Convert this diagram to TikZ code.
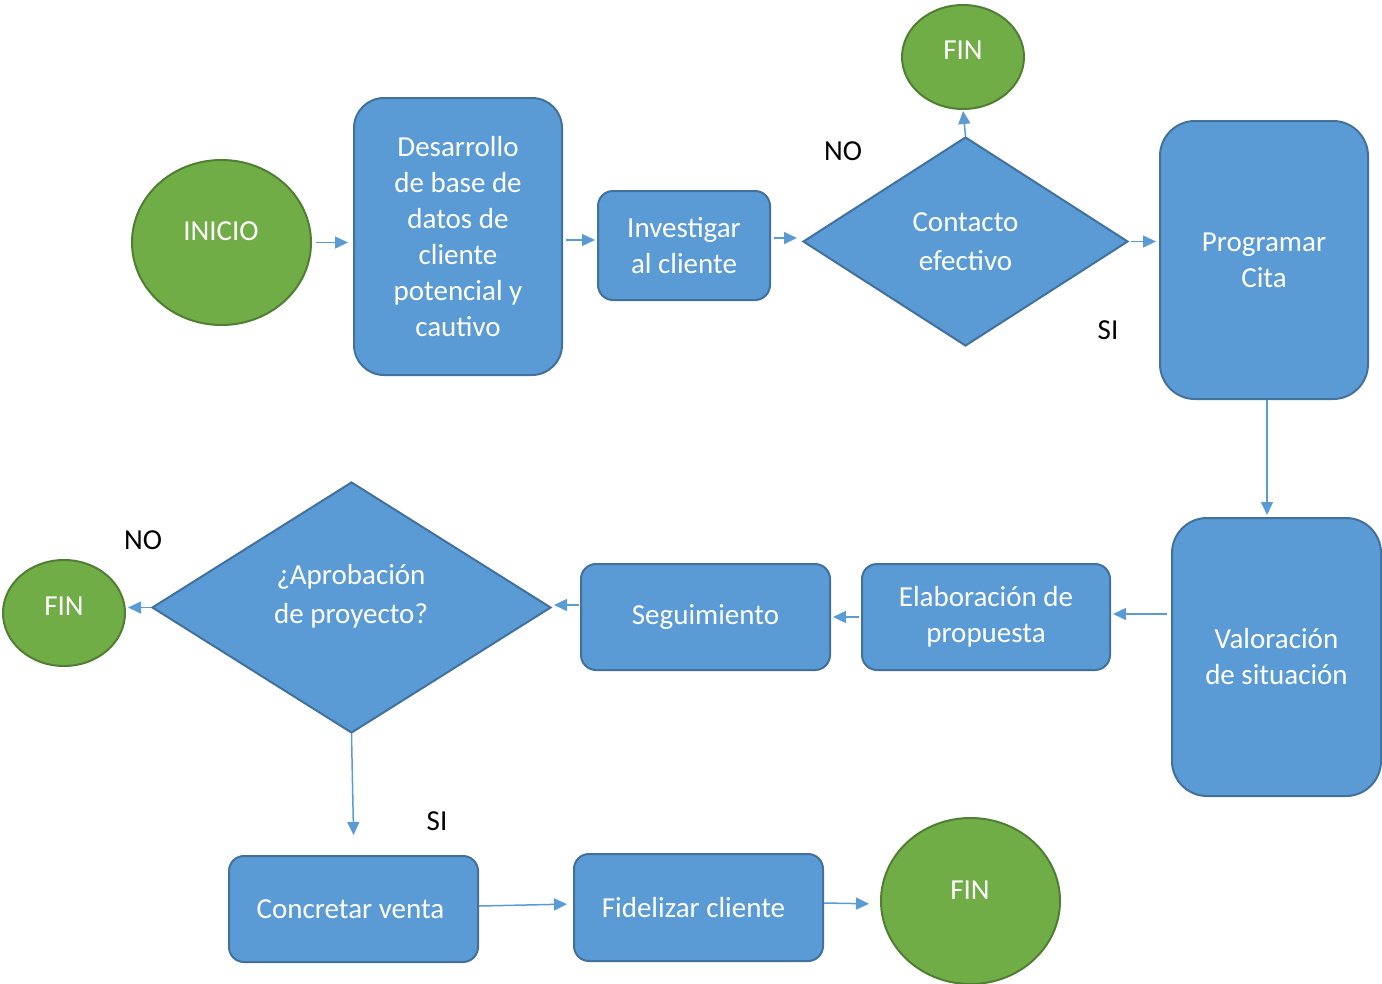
\documentclass[tikz,border=0pt]{standalone}
\usepackage{fontspec}
\setmainfont{Carlito}
\usetikzlibrary{shapes.geometric,arrows.meta}
\definecolor{bfill}{HTML}{5B9BD5}
\definecolor{bline}{HTML}{41719C}
\definecolor{gfill}{HTML}{70AD47}
\definecolor{gline}{HTML}{507E32}
\definecolor{arr}{HTML}{5B9BD5}
\tikzset{
  x=1pt,y=-1pt,
  txt/.style={font=\fontsize{29}{36}\selectfont, text=white, align=center},
  dtxt/.style={font=\fontsize{29}{39}\selectfont, text=white, align=center},
  box/.style={txt, draw=bline, fill=bfill, line width=2pt, inner sep=0pt},
  oval/.style={ellipse, draw=gline, fill=gfill, line width=2pt, inner sep=0pt, font=\fontsize{29}{36}\selectfont, text=white},
  dia/.style={diamond, dtxt, draw=bline, fill=bfill, line width=2pt, inner sep=0pt},
  conn/.style={draw=arr, line width=1.5pt, -{Triangle[length=13pt,width=12pt]}},
  lab/.style={font=\fontsize{29}{34}\selectfont, text=black}
}
\begin{document}
\begin{tikzpicture}
\useasboundingbox (0,0) rectangle (1382,983);
% nodes
\node[oval, minimum width=179pt, minimum height=165pt] (inicio) at (221.5,242.5) {};
\node[txt] (iniciot) at (221,231) {INICIO};
\node[box, rounded corners=30pt, minimum width=208pt, minimum height=277pt] (desa) at (458,236.5) {Desarrollo\\de base de\\datos de\\cliente\\potencial y\\cautivo};
\node[box, rounded corners=15pt, minimum width=172pt, minimum height=109pt] (inv) at (684,245.5) {Investigar\\al cliente};
\node[dia, minimum width=325pt, minimum height=209pt] (cont) at (965.5,241.5) {Contacto\\efectivo};
\node[oval, minimum width=122pt, minimum height=104pt] (fin1) at (963,57) {};
\node[txt] (fin1t) at (963,50) {FIN};
\node[box, rounded corners=35pt, minimum width=208pt, minimum height=278pt] (prog) at (1264,260) {Programar\\Cita};
\node[box, rounded corners=35pt, minimum width=209pt, minimum height=278pt] (val) at (1276.5,657) {Valoración\\de situación};
\node[box, rounded corners=15pt, minimum width=248pt, minimum height=106pt] (elab) at (986,617) {Elaboración de\\propuesta};
\node[box, rounded corners=15pt, minimum width=249pt, minimum height=106pt] (seg) at (705.5,617) {Seguimiento};
\node[dia, minimum width=399pt, minimum height=251pt] (apro) at (351.5,607.5) {};
\node[dtxt] (aprot) at (351,596.5) {¿Aprobación\\de proyecto?};
\node[oval, minimum width=122pt, minimum height=106pt] (fin2) at (64,613) {};
\node[txt] (fin2t) at (64,606) {FIN};
\node[box, rounded corners=15pt, minimum width=249pt, minimum height=106pt] (conc) at (353.5,909) {Concretar venta\hspace*{6pt}};
\node[box, rounded corners=15pt, minimum width=249pt, minimum height=107pt] (fide) at (698.5,907.5) {Fidelizar cliente\hspace*{10pt}};
\node[oval, minimum width=179pt, minimum height=166pt] (fin3) at (970.5,901) {};
\node[txt] (fin3t) at (970,890) {FIN};
% labels
\node[lab] (no1) at (843,151) {NO};
\node[lab] (si1) at (1108,330) {SI};
\node[lab] (no2) at (143,540) {NO};
\node[lab] (si2) at (437,821) {SI};
% connectors
\draw[conn, shorten <=4pt, shorten >=5pt] (inicio.east) -- (inicio.east -| desa.west);
\draw[conn, shorten <=3pt, shorten >=2pt] (desa.east |- 0,240) -- (inv.west |- 0,240);
\draw[conn, shorten <=3pt, shorten >=5pt] (inv.east |- 0,238) -- (cont.west |- 0,238);
\draw[conn, shorten <=2pt, shorten >=3pt] (cont.east) -- (cont.east -| prog.west);
\draw[conn, shorten >=1pt] (cont.north) -- (fin1.south);
\draw[conn, shorten >=2pt] (prog.south -| 1267,0) -- (val.north -| 1267,0);
\draw[conn, shorten <=4pt, shorten >=2pt] (val.west |- 0,614) -- (elab.east |- 0,614);
\draw[conn, shorten <=2pt, shorten >=2pt] (elab.west) -- (seg.east);
\draw[conn, shorten <=1pt, shorten >=2pt] (seg.west |- 0,605) -- (apro.east |- 0,605);
\draw[conn, shorten >=2pt] (apro.west) -- (apro.west -| fin2.east);
\draw[conn, shorten >=21pt] (apro.south) -- (354,856);
\draw[conn, shorten >=6pt] (conc.east |- 0,906) -- (fide.west |- 0,904);
\draw[conn, shorten >=11pt] (fide.east |- 0,903) -- (fin3.west |- 0,904);
\end{tikzpicture}
\end{document}
